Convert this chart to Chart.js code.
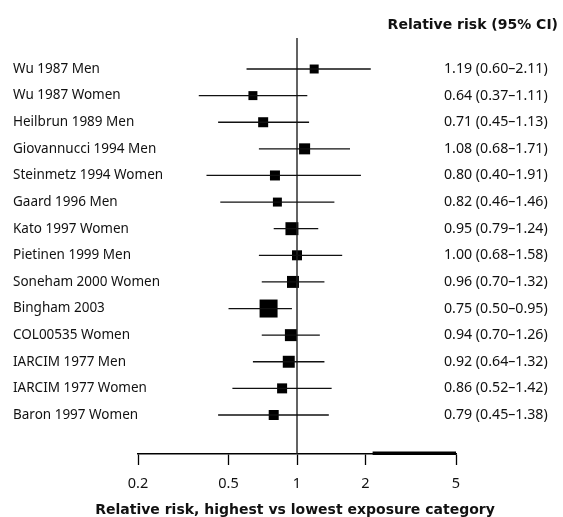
<!DOCTYPE html>
<html>
<head>
<meta charset="utf-8">
<script src="https://cdn.jsdelivr.net/npm/chart.js@4.4.1/dist/chart.umd.min.js"></script>
<style>
  html, body { margin: 0; padding: 0; background: #fff; }
</style>
</head>
<body>
<canvas id="forest" width="563" height="517"></canvas>
<script>
// studies, top to bottom
const studies = [
  'Wu 1987 Men', 'Wu 1987 Women', 'Heilbrun 1989 Men', 'Giovannucci 1994 Men',
  'Steinmetz 1994 Women', 'Gaard 1996 Men', 'Kato 1997 Women', 'Pietinen 1999 Men',
  'Soneham 2000 Women', 'Bingham 2003', 'COL00535 Women', 'IARCIM 1977 Men',
  'IARCIM 1977 Women', 'Baron 1997 Women'
];
const relRisk = [1.19, 0.64, 0.71, 1.08, 0.80, 0.82, 0.95, 1.00, 0.96, 0.75, 0.94, 0.92, 0.86, 0.79];
const ciLow   = [0.60, 0.37, 0.45, 0.68, 0.40, 0.46, 0.79, 0.68, 0.70, 0.50, 0.70, 0.64, 0.52, 0.45];
const ciHigh  = [2.11, 1.11, 1.13, 1.71, 1.91, 1.46, 1.24, 1.58, 1.32, 0.95, 1.26, 1.32, 1.42, 1.38];
// study weight (%), read from the square areas
const weights = [4.5, 4.5, 5.6, 6.8, 5.6, 4.5, 9.4, 5.6, 8.0, 18.1, 8.0, 8.0, 5.6, 5.6];
const xTicks = [0.2, 0.5, 1, 2, 5];
const xTitle = 'Relative risk, highest vs lowest exposure category';
const colTitle = 'Relative risk (95% CI)';

const FONT = "'Noto Sans', 'DejaVu Sans', sans-serif";
const BOLD_FONT = "'DejaVu Sans', 'Noto Sans', sans-serif";
const INK = '#111';
const fmt = v => v.toFixed(2);
const ciText = studies.map((s, i) => `${fmt(relRisk[i])} (${fmt(ciLow[i])}–${fmt(ciHigh[i])})`);

const yMin = -1.165, yMax = 14.466;

// one short line per confidence interval
const ciSets = studies.map((s, i) => ({
  type: 'scatter',
  data: [{ x: ciLow[i], y: i }, { x: ciHigh[i], y: i }],
  showLine: true,
  borderColor: INK,
  borderWidth: 1.3,
  pointRadius: 0,
}));

const nullLine = {
  type: 'scatter',
  data: [{ x: 1, y: yMin }, { x: 1, y: yMax }],
  showLine: true,
  borderColor: '#222',
  borderWidth: 1.4,
  pointRadius: 0,
};

const squares = {
  type: 'scatter',
  data: relRisk.map((v, i) => ({ x: v, y: i })),
  pointStyle: 'rect',
  pointRadius: weights.map(w => 4.23 * Math.sqrt(w) / Math.SQRT2),
  backgroundColor: '#000',
  borderColor: '#000',
  borderWidth: 0,
};

// text columns, headers and the axis title (too wide for the scale's own title)
const textColumns = {
  id: 'textColumns',
  afterDraw(chart) {
    const { ctx, scales: { x, y } } = chart;
    ctx.save();
    ctx.fillStyle = INK;
    ctx.textBaseline = 'middle';
    ctx.textAlign = 'left';
    studies.forEach((s, i) => {
      const py = y.getPixelForValue(i);
      ctx.font = `13.5px ${FONT}`;
      ctx.fillText(s, 13, py);
      ctx.font = `14.2px ${FONT}`;
      ctx.fillText(ciText[i], 444, py);
    });
    ctx.font = `bold 14px ${BOLD_FONT}`;
    ctx.textAlign = 'right';
    ctx.fillText(colTitle, 558, 25);
    ctx.textAlign = 'center';
    ctx.fillText(xTitle, 295, 510);
    // heavier stretch of the axis line on the right
    ctx.strokeStyle = '#000';
    ctx.lineWidth = 3.4;
    ctx.beginPath();
    ctx.moveTo(x.getPixelForValue(2.15), chart.chartArea.bottom - 0.8);
    ctx.lineTo(x.getPixelForValue(5), chart.chartArea.bottom - 0.8);
    ctx.stroke();
    ctx.restore();
  }
};

new Chart(document.getElementById('forest'), {
  type: 'scatter',
  data: { datasets: [...ciSets, nullLine, squares] },
  options: {
    responsive: false,
    animation: false,
    layout: { padding: { left: 138, right: 107, top: 38, bottom: 14.6 } },
    plugins: { legend: { display: false }, tooltip: { enabled: false } },
    scales: {
      x: {
        type: 'logarithmic',
        min: 0.2,
        max: 5,
        afterBuildTicks: scale => { scale.ticks = xTicks.map(v => ({ value: v })); },
        ticks: {
          callback: v => String(v),
          font: { family: FONT, size: 14.5 },
          color: INK,
          padding: 10,
          autoSkip: false,
          maxRotation: 0,
        },
        grid: {
          drawOnChartArea: false,
          drawTicks: true,
          tickLength: 11,
          tickColor: '#000',
          tickWidth: 1.3,
        },
        border: { display: true, color: '#000', width: 1.5 },
      },
      y: {
        type: 'linear',
        min: yMin,
        max: yMax,
        reverse: true,
        display: false,
      },
    },
  },
  plugins: [textColumns],
});
</script>
</body>
</html>
